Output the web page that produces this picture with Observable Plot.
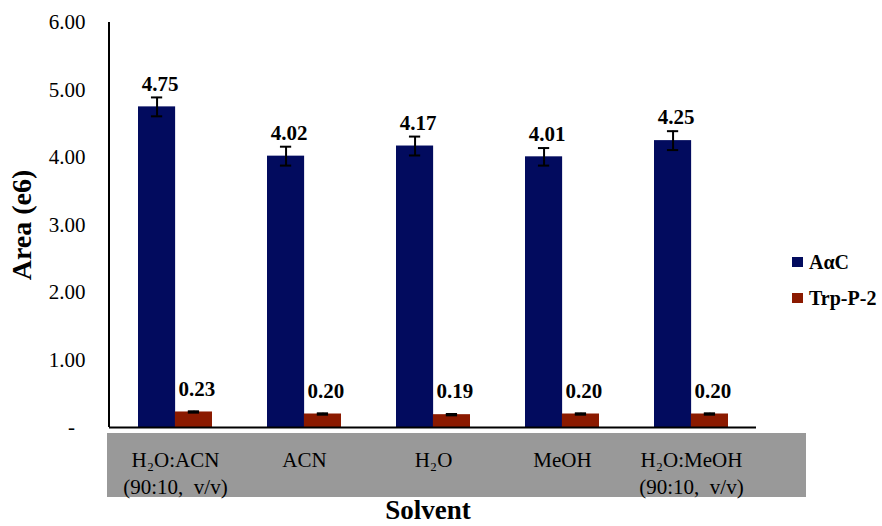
<!DOCTYPE html>
<html>
<head>
<meta charset="utf-8">
<script src="https://cdn.jsdelivr.net/npm/d3@7"></script>
<script src="https://cdn.jsdelivr.net/npm/@observablehq/plot@0.6"></script>
<style>
  html, body { margin: 0; padding: 0; background: #fff; }
  #wrap { position: relative; width: 882px; height: 526px; }
  #legend { position: absolute; left: 792px; top: 252px; font-family: "Liberation Serif", "Times New Roman", serif; font-weight: bold; font-size: 20px; color: #000; }
  #legend .item { display: flex; align-items: center; height: 20px; margin-bottom: 16px; }
  #legend .sw { width: 11px; height: 10px; margin-right: 6px; }
</style>
</head>
<body>
<div id="wrap"><div id="legend"></div></div>
<script>
const categories = ["H₂O:ACN\n(90:10,\u00a0 v/v)", "ACN", "H₂O", "MeOH", "H₂O:MeOH\n(90:10,\u00a0 v/v)"];
const series = ["AαC", "Trp-P-2"];
const aacValues = [4.75, 4.02, 4.17, 4.01, 4.25];
const aacErrors = [0.14, 0.14, 0.14, 0.13, 0.14];
const trpValues = [0.23, 0.20, 0.19, 0.20, 0.20];
const trpErrors = [0.01, 0.01, 0.01, 0.01, 0.01];
const yTicks = [0, 1, 2, 3, 4, 5, 6];
const colors = ["#020b5e", "#8b1a00"];

const W = 882, H = 526;
const mL = 109, mR = 126, mT = 22, mB = 99;
const padInner = 0.43;
const step = (W - mL - mR) / categories.length;
const bw = step * (1 - padInner);
const capHalf = 5.5;

const aac = categories.map((c, i) => ({category: c, series: series[0], value: aacValues[i], error: aacErrors[i]}));
const trp = categories.map((c, i) => ({category: c, series: series[1], value: trpValues[i], error: trpErrors[i]}));

function groupMarks(data, color, side) {
  const dx = side === 0 ? -bw / 4 : bw / 4;
  const barInset = side === 0 ? {insetRight: bw / 2} : {insetLeft: bw / 2};
  const capInset = side === 0
    ? {insetLeft: bw / 4 - capHalf, insetRight: 3 * bw / 4 - capHalf}
    : {insetLeft: 3 * bw / 4 - capHalf, insetRight: bw / 4 - capHalf};
  return [
    Plot.barY(data, {x: "category", y: "value", fill: color, ...barInset}),
    Plot.ruleX(data, {x: "category", y1: d => d.value - d.error, y2: d => d.value + d.error, dx, stroke: "#000", strokeWidth: 2}),
    Plot.tickY(data, {x: "category", y: d => d.value + d.error, stroke: "#000", strokeWidth: 2, ...capInset}),
    Plot.tickY(data, {x: "category", y: d => d.value - d.error, stroke: "#000", strokeWidth: 2, ...capInset}),
    Plot.text(data, {x: "category", y: "value", text: d => d.value.toFixed(2), dx: dx + 3, dy: -23, fontWeight: "bold", fontSize: 21, fill: "#000"})
  ];
}

const chart = Plot.plot({
  width: W,
  height: H,
  marginLeft: mL,
  marginRight: mR,
  marginTop: mT,
  marginBottom: mB,
  style: {fontFamily: "'Liberation Serif', 'Times New Roman', serif", fontSize: "21px", color: "#000", background: "transparent", overflow: "visible"},
  x: {domain: categories, paddingInner: padInner, paddingOuter: padInner / 2},
  y: {domain: [0, 6]},
  marks: [
    Plot.axisX({tickSize: 0, tickPadding: 20, fontSize: 21, lineHeight: 1.3, label: null, fill: "#000"}),
    Plot.axisY({ticks: yTicks, tickSize: 0, tickPadding: 24, fontSize: 21, label: null, fill: "#000",
      tickFormat: d => d === 0 ? "-\u00a0\u00a0" : d.toFixed(2)}),
    ...groupMarks(aac, colors[0], 0),
    ...groupMarks(trp, colors[1], 1),
    Plot.ruleY([0], {stroke: "#000", strokeWidth: 2})
  ]
});

const svg = d3.select(chart);
svg.insert("rect", ":first-child")
  .attr("x", 107).attr("y", 433).attr("width", 699).attr("height", 64)
  .attr("fill", "#999999");
svg.append("line")
  .attr("x1", mL).attr("x2", mL).attr("y1", mT).attr("y2", H - mB)
  .attr("stroke", "#000").attr("stroke-width", 2);
svg.append("text")
  .attr("transform", `translate(31, 225) rotate(-90)`)
  .attr("text-anchor", "middle")
  .attr("font-weight", "bold").attr("font-size", 28)
  .text("Area (e6)");
svg.append("text")
  .attr("x", 428).attr("y", 519)
  .attr("text-anchor", "middle")
  .attr("font-weight", "bold").attr("font-size", 27)
  .text("Solvent");

document.getElementById("wrap").prepend(chart);

const legend = d3.select("#legend");
series.forEach((s, i) => {
  const it = legend.append("div").attr("class", "item");
  it.append("div").attr("class", "sw").style("background", colors[i]);
  it.append("span").text(s);
});
</script>
</body>
</html>
